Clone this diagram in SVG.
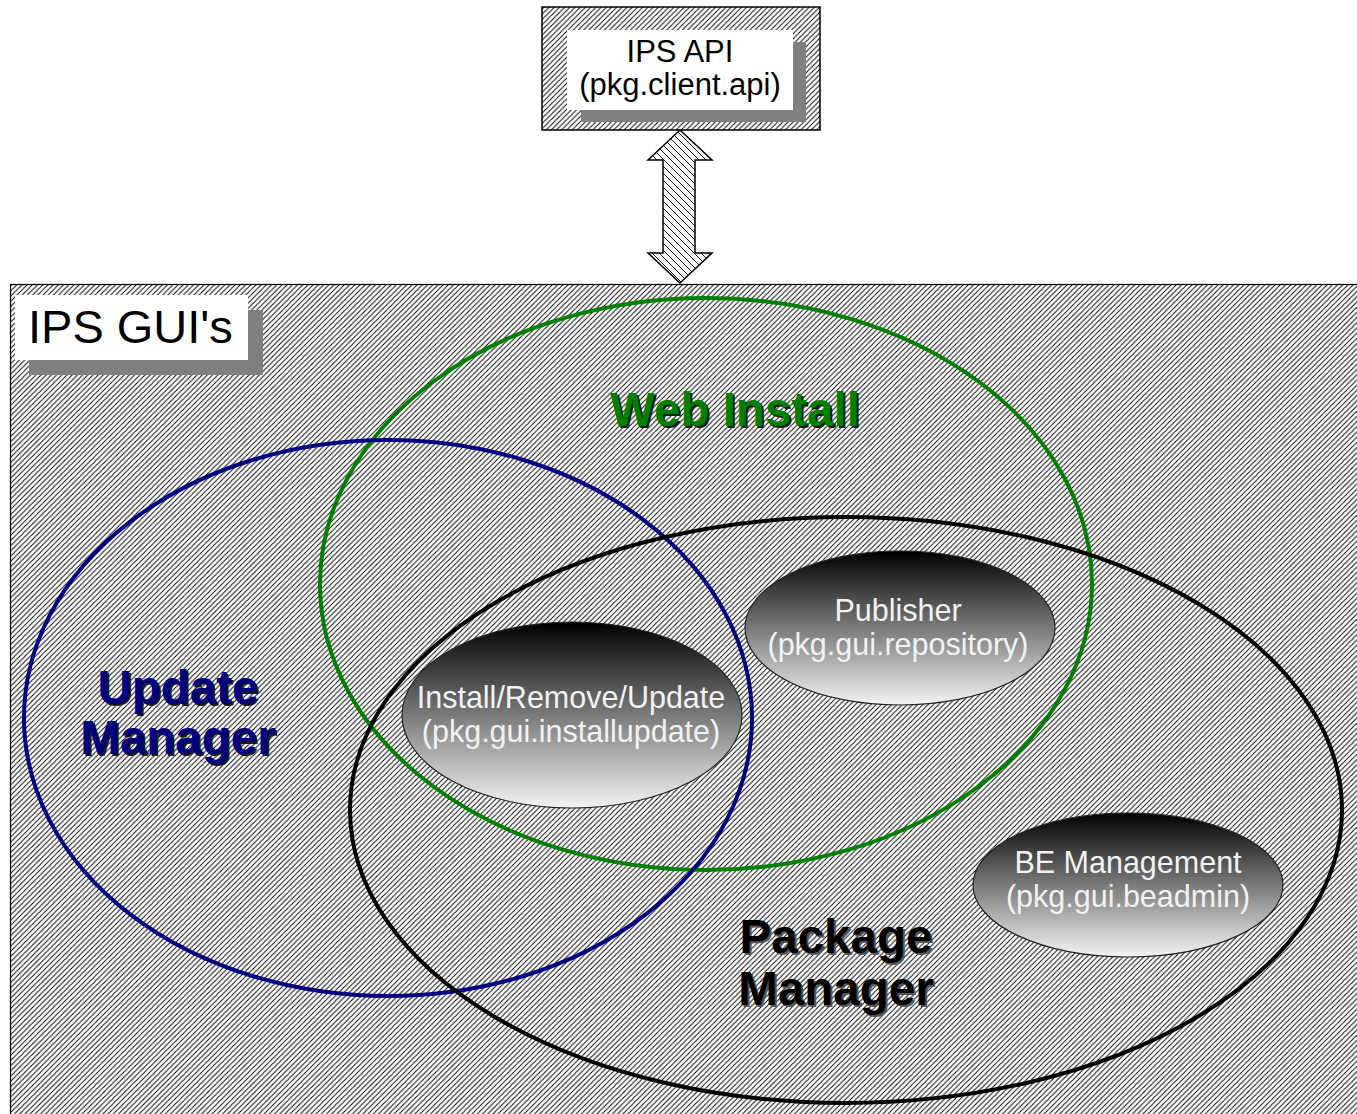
<svg xmlns="http://www.w3.org/2000/svg" width="1357" height="1114" viewBox="0 0 1357 1114">
<defs>
  <pattern id="hatch" patternUnits="userSpaceOnUse" width="5.2" height="5.2">
    <rect width="5.2" height="5.2" fill="#fff"/>
    <path d="M-1,1 L1,-1 M0,5.2 L5.2,0 M4.2,6.2 L6.2,4.2" stroke="#000" stroke-width="0.95"/>
  </pattern>
  <pattern id="hatch2" patternUnits="userSpaceOnUse" width="7" height="7">
    <rect width="7" height="7" fill="#fff"/>
    <path d="M-1,6 L1,8 M0,0 L7,7 M6,-1 L8,1" stroke="#000" stroke-width="0.9"/>
  </pattern>
  <linearGradient id="grad" x1="0" y1="0" x2="0" y2="1">
    <stop offset="0" stop-color="#000"/>
    <stop offset="1" stop-color="#f4f4f4"/>
  </linearGradient>
</defs>
<style>
  .lbl { font-family: "Liberation Sans", Arial, sans-serif; }
  .big { font-family: "Liberation Sans", Arial, sans-serif; font-weight: bold; font-size: 47.5px; text-anchor: middle; }
  .shadow { fill: #1a1a1a; }
  .inner { font-family: "Liberation Sans", Arial, sans-serif; font-size: 30.5px; fill: #f2f2f2; text-anchor: middle; }
  .set { fill: none; stroke-width: 4; }
  .comp { fill: url(#grad); stroke: #222; stroke-width: 1.2; }
</style>

<g id="ips-api">
  <rect x="542" y="7" width="278" height="123" fill="url(#hatch)" stroke="#000" stroke-width="1.5"/>
  <rect x="581" y="42" width="225" height="80" fill="#808080"/>
  <rect x="567" y="30" width="226" height="80" fill="#fff"/>
  <text class="lbl" x="680" y="62" font-size="31" text-anchor="middle" fill="#000">IPS API</text>
  <text class="lbl" x="680" y="95" font-size="31" text-anchor="middle" fill="#000">(pkg.client.api)</text>
</g>

<g id="ips-guis">
  <rect x="10.5" y="284.5" width="1360" height="840" fill="url(#hatch)" stroke="#000" stroke-width="1.2"/>
  <rect x="29" y="310" width="234" height="65" fill="#808080"/>
  <rect x="15" y="295" width="233" height="65" fill="#fff"/>
  <text class="lbl" x="28" y="343" font-size="47" fill="#000">IPS GUI's</text>
</g>

<g id="connectors">
  <polygon points="680,130 712,160 695,160 695,253 712,253 680,283 648,253 663,253 663,160 648,160" fill="url(#hatch2)" stroke="#000" stroke-width="1.5" stroke-linejoin="miter"/>
</g>

<g id="web-install">
  <ellipse class="set" cx="706" cy="584" rx="386" ry="286" stroke="#008000"/>
  <text class="big shadow" x="737" y="428">Web Install</text>
  <text class="big" x="735" y="426" fill="#008000">Web Install</text>
</g>

<g id="update-manager">
  <ellipse class="set" cx="388" cy="718" rx="364" ry="278" stroke="#000080"/>
  <text class="big shadow" x="180" y="706">Update</text>
  <text class="big shadow" x="180" y="756">Manager</text>
  <text class="big" x="178" y="704" fill="#000080">Update</text>
  <text class="big" x="178" y="754" fill="#000080">Manager</text>
</g>

<g id="package-manager">
  <ellipse class="set" cx="846" cy="810" rx="496" ry="293" stroke="#000"/>
  <text class="big" x="838" y="955" fill="#555">Package</text>
  <text class="big" x="838" y="1007" fill="#555">Manager</text>
  <text class="big" x="836" y="953" fill="#000">Package</text>
  <text class="big" x="836" y="1005" fill="#000">Manager</text>
</g>

<g id="install-update">
  <ellipse class="comp" cx="572" cy="715" rx="170" ry="93"/>
  <text class="inner" x="571" y="708">Install/Remove/Update</text>
  <text class="inner" x="571" y="742">(pkg.gui.installupdate)</text>
</g>

<g id="publisher">
  <ellipse class="comp" cx="900" cy="628" rx="155" ry="77"/>
  <text class="inner" x="898" y="621">Publisher</text>
  <text class="inner" x="898" y="655">(pkg.gui.repository)</text>
</g>

<g id="be-management">
  <ellipse class="comp" cx="1128" cy="885" rx="155" ry="72"/>
  <text class="inner" x="1128" y="873">BE Management</text>
  <text class="inner" x="1128" y="907">(pkg.gui.beadmin)</text>
</g>
</svg>
